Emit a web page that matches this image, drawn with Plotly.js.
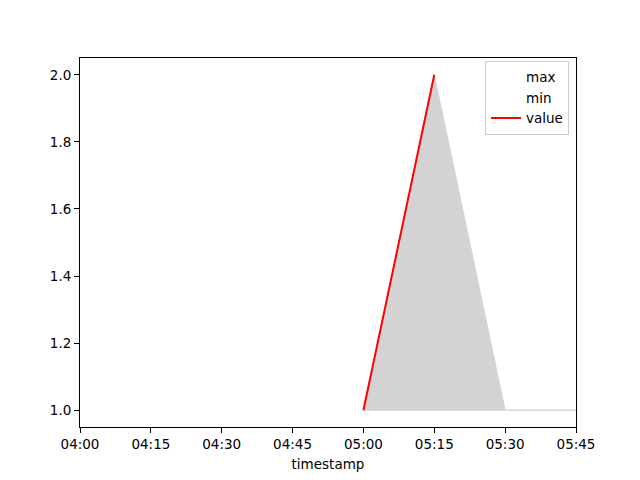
<!DOCTYPE html>
<html>
<head>
<meta charset="utf-8">
<script src="https://cdn.plot.ly/plotly-3.0.1.min.js"></script>
<style>html,body{margin:0;padding:0;background:#fff}#chart{width:640px;height:480px}</style>
</head>
<body>
<div id="chart"></div>
<script>
const timestamps = ["2024-01-01 05:00", "2024-01-01 05:15", "2024-01-01 05:30", "2024-01-01 05:45"];
const maxValues = [1, 2, 1, 1];
const minValues = [1, 1, 1, 1];
const valueValues = [1, 2, null, null];
const xRange = ["2024-01-01 04:00", "2024-01-01 05:45"];
const yRange = [0.95, 2.05];
const yTicks = [1.0, 1.2, 1.4, 1.6, 1.8, 2.0];

const font = {family: "DejaVu Sans, sans-serif", size: 13.5, color: "#000"};

const traces = [
  {x: timestamps, y: maxValues, name: "max", mode: "lines", line: {color: "white", width: 1.5}},
  {x: timestamps, y: minValues, name: "min", mode: "lines", line: {color: "white", width: 1.5}},
  {x: timestamps, y: minValues, mode: "lines", line: {color: "lightgray", width: 1}, showlegend: false, hoverinfo: "skip"},
  {x: timestamps, y: maxValues, mode: "lines", fill: "tonexty", fillcolor: "lightgray", line: {color: "lightgray", width: 1}, showlegend: false, hoverinfo: "skip"},
  {x: timestamps, y: valueValues, name: "value", mode: "lines", line: {color: "red", width: 2}}
];

const layout = {
  width: 640, height: 480,
  margin: {l: 80, r: 64, t: 58, b: 53},
  paper_bgcolor: "white", plot_bgcolor: "white",
  font: font,
  showlegend: true,
  legend: {x: 0.986, y: 0.993, xanchor: "right", yanchor: "top", traceorder: "normal", bgcolor: "rgba(255,255,255,0.8)", bordercolor: "#cccccc", borderwidth: 1, font: font, tracegroupgap: 0},
  xaxis: {
    type: "date", range: xRange, dtick: 900000, tick0: xRange[0], tickformat: "%H:%M",
    showgrid: false, zeroline: false, showline: true, linecolor: "black", linewidth: 1, mirror: true,
    ticks: "outside", ticklen: 5, tickcolor: "black", tickfont: font,
    title: {text: "timestamp", font: font, standoff: 8}
  },
  yaxis: {
    range: yRange, tickvals: yTicks, ticktext: yTicks.map(v => v.toFixed(1)),
    showgrid: false, zeroline: false, showline: true, linecolor: "black", linewidth: 1, mirror: true,
    ticks: "outside", ticklen: 5, tickcolor: "black", tickfont: font
  }
};

Plotly.newPlot("chart", traces, layout, {displayModeBar: false, staticPlot: true});
</script>
</body>
</html>
